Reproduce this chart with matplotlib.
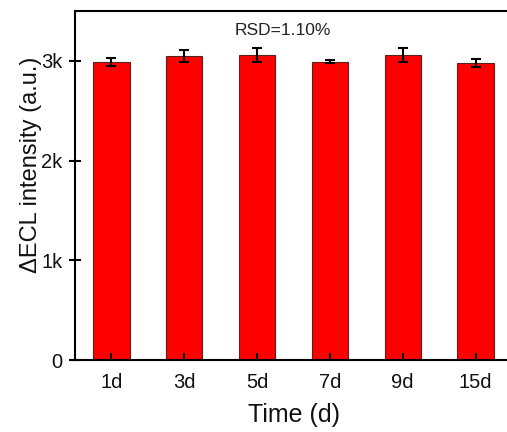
import matplotlib.pyplot as plt
import numpy as np

# ECL stability over storage time
days = ['1d', '3d', '5d', '7d', '9d', '15d']
intensity = [2987, 3047, 3057, 2993, 3057, 2977]
errors = [37, 62, 73, 13, 73, 37]
ytick_values = [0, 1000, 2000, 3000]
ytick_labels = ['0', '1k', '2k', '3k']

plt.rcParams['font.family'] = ['Liberation Sans', 'DejaVu Sans']

fig = plt.figure(figsize=(5.07, 4.32), dpi=100)
ax = fig.add_axes([75 / 507, 72 / 432, 437 / 507, 349 / 432])

x = np.arange(len(days))
ax.bar(x, intensity, width=0.5, color='#ff0000', edgecolor='#5a2020', linewidth=0.8,
       yerr=errors, capsize=3.5, error_kw=dict(elinewidth=1.5, capthick=1.5, ecolor='black'))

ax.set_xlim(-0.5, 5.5)
ax.set_ylim(0, 3500)
ax.set_xticks(x)
ax.set_xticklabels(days)
ax.set_yticks(ytick_values)
ax.set_yticklabels(ytick_labels)

ax.set_xlabel('Time (d)', fontsize=18, labelpad=8, color='#111111')
ax.set_ylabel('ΔECL intensity (a.u.)', fontsize=17, color='#111111')
ax.yaxis.set_label_coords(-0.075, 0.56)
ax.tick_params(axis='x', direction='in', length=5, width=1.5, labelsize=14.5, pad=9,
               labelcolor='#111111')
ax.tick_params(axis='y', direction='inout', length=8, width=1.5, labelsize=14.5, pad=5,
               labelcolor='#111111')

for side in ['left', 'bottom', 'top', 'right']:
    ax.spines[side].set_linewidth(1.5)

ax.text(2.36, 3300, 'RSD=1.10%', ha='center', va='center', fontsize=12.5, color='#222222')

fig.savefig('out.png', dpi=100)
